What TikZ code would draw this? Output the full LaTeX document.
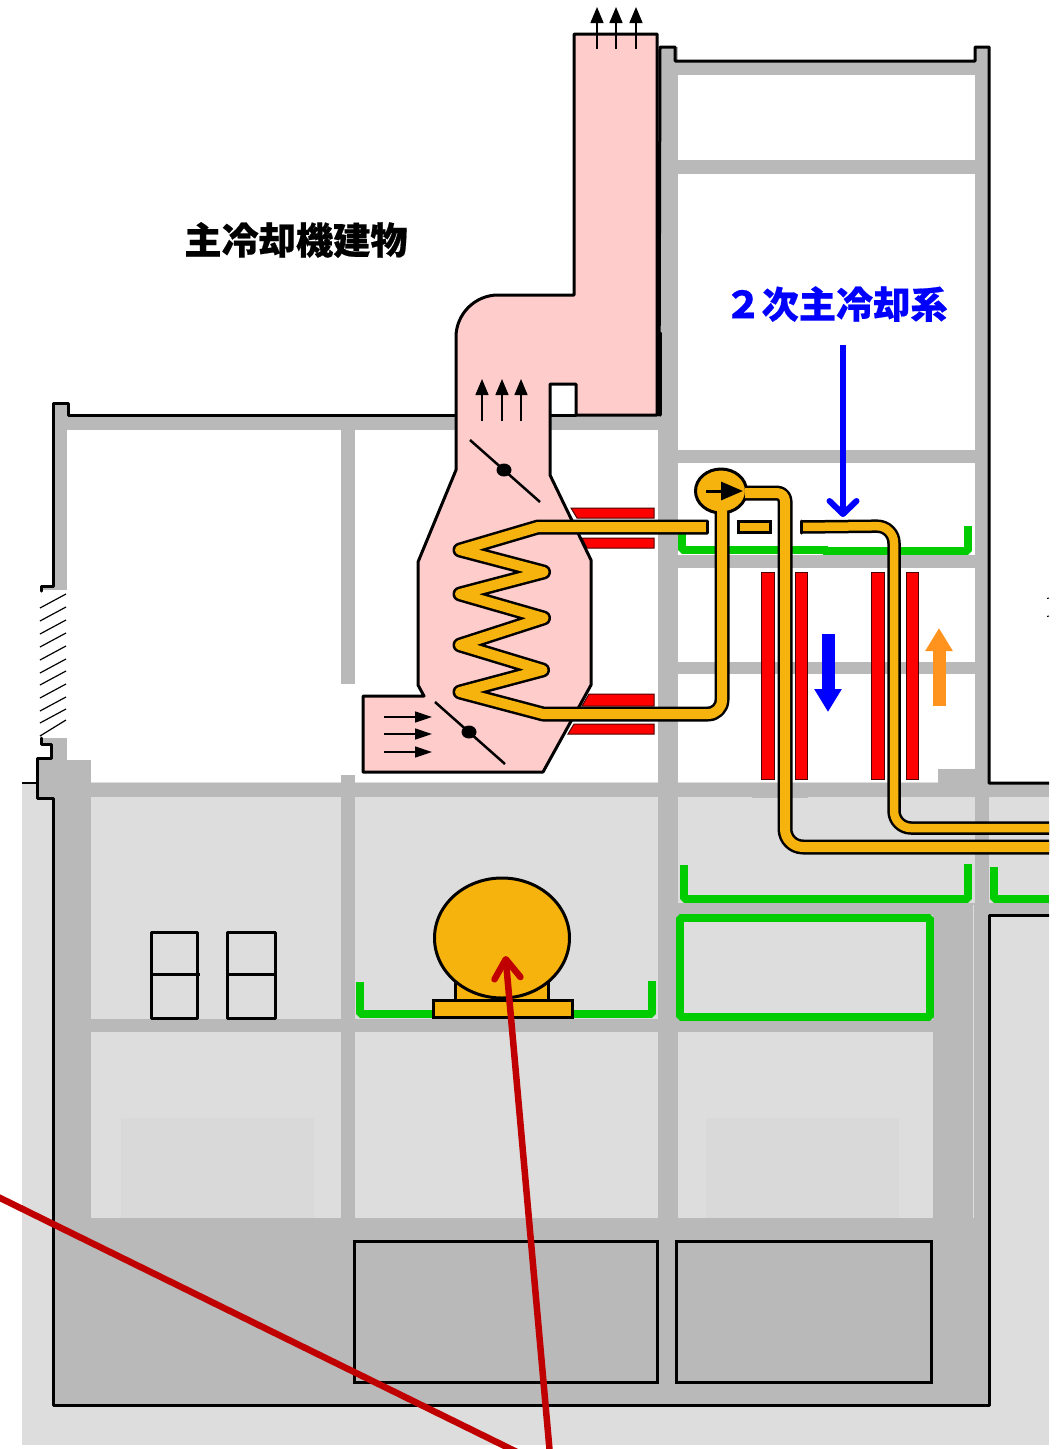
\documentclass[tikz,border=0pt]{standalone}
\usepackage{fontspec}
\newfontfamily\cjkfont[BoldFeatures={FakeBold=0.5}]{Noto Sans CJK JP}
\usetikzlibrary{arrows.meta}
\definecolor{bldgray}{HTML}{B9B9B9}
\definecolor{lightgray2}{HTML}{DDDDDD}
\definecolor{faintgray}{HTML}{D9D9D9}
\definecolor{ductpink}{HTML}{FFCCCC}
\definecolor{pipeorange}{HTML}{F6B20D}
\definecolor{platered}{HTML}{FF0000}
\definecolor{rimgreen}{HTML}{00CC00}
\definecolor{darkred}{HTML}{C00000}
\definecolor{flowblue}{HTML}{0000FF}
\definecolor{floworange}{HTML}{FF931E}

\begin{document}
\begin{tikzpicture}[
  x=1pt, y=-1pt,
  wall/.style={fill=bldgray},
  outline/.style={draw=black, line width=3pt, line join=round, line cap=round},
  thinout/.style={draw=black, line width=3pt},
  pipe/.style={draw=black, line width=2.5pt, double=pipeorange, double distance=#1, line join=round},
  pipeend/.style={draw=black, line width=3pt, line cap=round},
  plate/.style={fill=platered, draw=black!70!platered, line width=1pt},
  rim/.style={draw=rimgreen, line width=8pt, line join=bevel},
  flowsmall/.style={draw=black, line width=1.5pt, -{Triangle[length=16pt,width=13pt]}},
  flowside/.style={draw=black, line width=1.5pt, -{Triangle[length=17pt,width=11pt]}},
  blockarrow/.style={line width=13pt, -{Triangle[length=23pt,width=26pt]}},
  leader/.style={line width=6.5pt, line cap=round, draw=darkred},
  titletext/.style={font=\cjkfont\bfseries\fontsize{37.2}{40}\selectfont},
]
\useasboundingbox (0,0) rectangle (1061,1449);
\clip (0,0) rectangle (1049,1449);

% Ground and floors
\fill[lightgray2] (22,783) rectangle (1049,1445);
\fill[lightgray2] (91,781.5) rectangle (938,784);
\fill[faintgray] (121,1118) rectangle (314,1222);
\fill[faintgray] (706,1118) rectangle (899,1222);

% Walls
\fill[wall] (53,403) rectangle (67,590);
\fill[wall] (43,588) rectangle (53,590);
\fill[wall] (67,415) rectangle (658,430);
\fill[wall] (341,430) rectangle (355,684);
\fill[wall] (341,775) rectangle (355,1218);
\fill[wall] (660,47) rectangle (678,415);
\fill[wall] (658,415) rectangle (678,1218);
\fill[wall] (675,61) rectangle (975,75);
\fill[wall] (975,47) rectangle (989,1405);
\foreach \ya/\yb in {160/174, 450/463, 555/568, 662/674}
  \fill[wall] (678,\ya) rectangle (975,\yb);
\fill[wall] (43,738) rectangle (67,744);
\fill[wall] (51,744) rectangle (67,760);
\fill[wall] (37,758) rectangle (53,798);
\fill[wall] (53,760) rectangle (91,1218);
\fill[wall] (91,783) rectangle (1049,797);
\fill[wall] (938,769) rectangle (975,783);
\fill[wall] (752,783) rectangle (808,798);
\fill[wall] (678,903) rectangle (1049,915);
\fill[wall] (91,1019) rectangle (658,1032);
\fill[wall] (678,1020) rectangle (933,1032);
\fill[wall] (933,903) rectangle (975,1218);
\fill[wall] (53,1218) rectangle (989,1405);
\draw[lightgray2, line width=1pt] (973.5,905) -- (973.5,1218);

% Building outline
\draw[outline] (41,591) -- (41,586) -- (53,586) -- (53,403) -- (68,403) -- (68,415) -- (456,415);
\draw[outline] (550,415) -- (576,415);
\draw[outline] (659,415) -- (660,47) -- (675,47) -- (675,61) -- (975,61) -- (975,47) -- (989,47) -- (989,783) -- (1049,783);
\draw[outline] (660,333) -- (660,415);
\draw[outline] (41,738) -- (41,744) -- (51,744) -- (51,758) -- (37,758) -- (37,798) -- (53,798) -- (53,1405) -- (989,1405) -- (989,915) -- (1049,915);
\draw[black, line width=1.2pt] (22,783) -- (37,783);

% Louvre
\foreach \yl in {608,621,634,647,660,673,685,698,711,723}
  \draw[black, line width=1.2pt] (40,\yl) -- (66,\yl-14);
\draw[black, line width=1.2pt] (40,736) -- (66,720);
\draw[black, line width=1pt] (1047,598.5) -- (1049,598);
\draw[black, line width=1pt] (1047,616.5) -- (1049,616);

% Lower rooms
\draw[thinout] (354,1241) rectangle (657,1382);
\draw[thinout] (676,1241) rectangle (931,1382);
\foreach \xa/\xb/\xc in {151/197/200, 227/275/276} {
  \draw[outline, line cap=butt] (\xa,932) rectangle (\xb,1018);
  \draw[black, line width=3pt] (\xa,974) -- (\xc,974);
}

% Green rims
\draw[rim] (682,530) -- (682,550) -- (828,550);
\draw[rim] (823,551) -- (968,551) -- (968,526);
\draw[rim] (684,865) -- (684,899) -- (968,899) -- (968,864);
\draw[rim] (994,867) -- (994,899) -- (1049,899);
\draw[rim] (680,918) rectangle (930,1017);
\draw[rim] (360,982) -- (360,1014) -- (652,1014) -- (652,981);

% Plates round the duct
\draw[plate] (571,508) -- (654,508) -- (654,518) -- (577,518) -- cycle;
\draw[plate] (582,538) -- (654,538) -- (654,548) -- (587,548) -- cycle;
\draw[plate] (589,694) -- (654,694) -- (654,706) -- (582,706) -- cycle;
\draw[plate] (574,724) -- (654,724) -- (654,734) -- (568,734) -- cycle;

% Air duct
\draw[outline, fill=ductpink, rounded corners=0pt] (574,34) -- (657,34) -- (657,415) -- (576,415) -- (576,384) -- (550,384) -- (550,475) -- (591,560) -- (591,685) -- (543,772) -- (363,772) -- (363,696) -- (424,696) -- (418,685) -- (418,562) -- (456,470) -- (456,337) .. controls (456,314) and (475,295) .. (498,295) -- (574,295) -- cycle;

% Dampers
\draw[black, line width=2.5pt] (470,440) -- (540,502);
\fill[black] (504,470) ellipse [x radius=7.5, y radius=6.5];
\draw[black, line width=2.5pt] (435,702) -- (505,764);
\fill[black] (469,732) ellipse [x radius=7.5, y radius=6.5];

% Air flow
\foreach \xf in {597,616,636}
  \draw[flowsmall] (\xf,49) -- (\xf,7);
\foreach \xf in {482,502,521}
  \draw[flowsmall] (\xf,421) -- (\xf,379);
\foreach \yf in {717,734,752}
  \draw[flowside] (384,\yf) -- (432,\yf);

% Vertical plates
\foreach \xa/\xb in {761/774, 795/807, 871/884, 906/918}
  \draw[plate] (\xa,572) rectangle (\xb,779);

% Pump
\draw[black, line width=3pt, fill=pipeorange] (721,491) ellipse [x radius=25.5, y radius=22];

% Piping
\draw[pipe=10pt] (707,527) -- (538,527) -- (460,550) -- (543.5,572) -- (460,594) -- (543.5,618) -- (460,645) -- (542.5,670) -- (460,692) -- (543,714) [rounded corners=14pt] -- (722,714) -- (722,511);
\draw[pipeend] (707,521) -- (707,533);
\draw[pipeorange, fill=pipeorange] (738,522) rectangle (770,532);
\draw[black, line width=3pt] (738,521.5) rectangle (770,532.5);
\draw[pipe=10pt] (745,493) [rounded corners=8pt] -- (785,493) [rounded corners=18pt] -- (785,847) -- (1052,847);
\draw[pipe=8.5pt] (801,527) [rounded corners=17pt] -- (894,526) -- (894,828) -- (1052,828);
\draw[pipeend] (801,521) -- (801,533);

% Pump arrow
\draw[black, line width=3pt, -{Triangle[length=22pt,width=18pt]}] (706,491) -- (743,491);

% Oil tank
\draw[thinout, fill=pipeorange] (455,982) rectangle (548,1000);
\draw[thinout, fill=pipeorange] (502,938) ellipse [x radius=67.5, y radius=60];
\draw[thinout, fill=pipeorange] (433,1000) rectangle (572,1017);

% Labels
\node[titletext, text=black] (bldlabel) at (296,240) {主冷却機建物};
\node[titletext, text=flowblue] (syslabel) at (836,304) {２次主冷却系};

% Connectors
\coordinate (sysstart) at (843,345);
\coordinate (systip) at (843,517);
\draw[flowblue, line width=6pt, -{Straight Barb[length=13pt,width=27pt,round]}] (sysstart) -- (systip);
\coordinate (downstart) at (828,634);
\coordinate (downtip) at (828,712);
\draw[flowblue, blockarrow] (downstart) -- (downtip);
\coordinate (upstart) at (939,706);
\coordinate (uptip) at (939,628);
\draw[floworange, blockarrow] (upstart) -- (uptip);
\coordinate (tankstart) at (550,1455);
\coordinate (tanktip) at (505.5,956);
\draw[leader, -{Straight Barb[length=19pt,width=26pt,round]}] (tankstart) -- (tanktip);
\coordinate (leftstart) at (-10,1193);
\coordinate (leftend) at (525,1456);
\draw[leader, line cap=butt] (leftstart) -- (leftend);
\end{tikzpicture}
\end{document}
